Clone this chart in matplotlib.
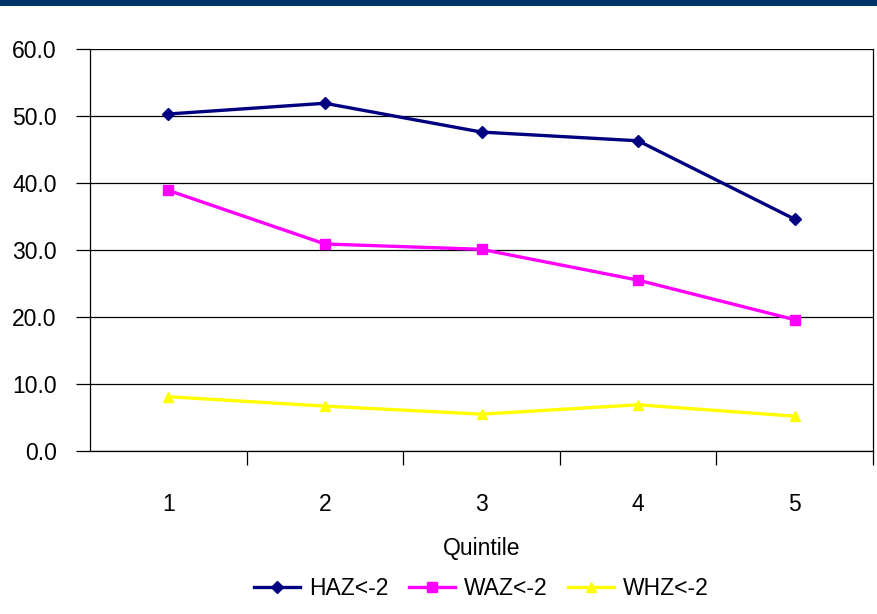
import matplotlib.pyplot as plt
from matplotlib.patches import Rectangle

# values
quintiles = [1, 2, 3, 4, 5]
haz = [50.3, 51.9, 47.6, 46.3, 34.6]
waz = [38.9, 30.9, 30.1, 25.5, 19.6]
whz = [8.1, 6.7, 5.5, 6.9, 5.2]
yticks = [0, 10, 20, 30, 40, 50, 60]

plt.rcParams['font.family'] = ['Liberation Sans', 'DejaVu Sans']

fig = plt.figure(figsize=(8.77, 6.14), dpi=100, facecolor='w')
# dark band across the top
fig.patches.append(Rectangle((0, 1 - 6 / 614), 1, 6 / 614, transform=fig.transFigure,
                             facecolor='#003366', edgecolor='none'))

ax = fig.add_axes([90 / 877, 1 - 451 / 614, (873 - 90) / 877, (451 - 49) / 614])
ax.plot(quintiles, haz, color='#000080', lw=2.4, marker='D', ms=6, label='HAZ<-2')
ax.plot(quintiles, waz, color='#FF00FF', lw=2.4, marker='s', ms=6.5, label='WAZ<-2')
ax.plot(quintiles, whz, color='#FFFF00', lw=2.4, marker='^', ms=7, label='WHZ<-2')

ax.set_xlim(0.5, 5.5)
ax.set_ylim(0, 60)
ax.set_yticks(yticks)
ax.set_yticklabels(['%.1f' % v for v in yticks], fontsize=16.5)
ax.yaxis.grid(True, color='black', lw=0.9)
ax.set_axisbelow(True)

ax.set_xticks([1.5, 2.5, 3.5, 4.5, 5.5], minor=False)
ax.set_xticklabels([])
ax.set_xticks(quintiles, minor=True)
ax.set_xticklabels([str(q) for q in quintiles], minor=True, fontsize=16.5)
ax.tick_params(axis='x', which='major', length=10, width=0.9, direction='out')
ax.tick_params(axis='x', which='minor', length=0, pad=30)
ax.tick_params(axis='y', length=10, width=0.9, direction='out', pad=14)

ax.spines['top'].set_visible(False)
for s in ['left', 'bottom', 'right']:
    ax.spines[s].set_linewidth(0.9)
    ax.spines[s].set_color('black')

ax.set_xlabel('Quintile', fontsize=16.5, labelpad=15)
ax.legend(loc='upper center', bbox_to_anchor=(0.50, -0.262), ncol=3, frameon=False,
          fontsize=16.5, handlelength=2.0, handletextpad=0.4, columnspacing=0.9)

fig.savefig('out.png', dpi=100)
